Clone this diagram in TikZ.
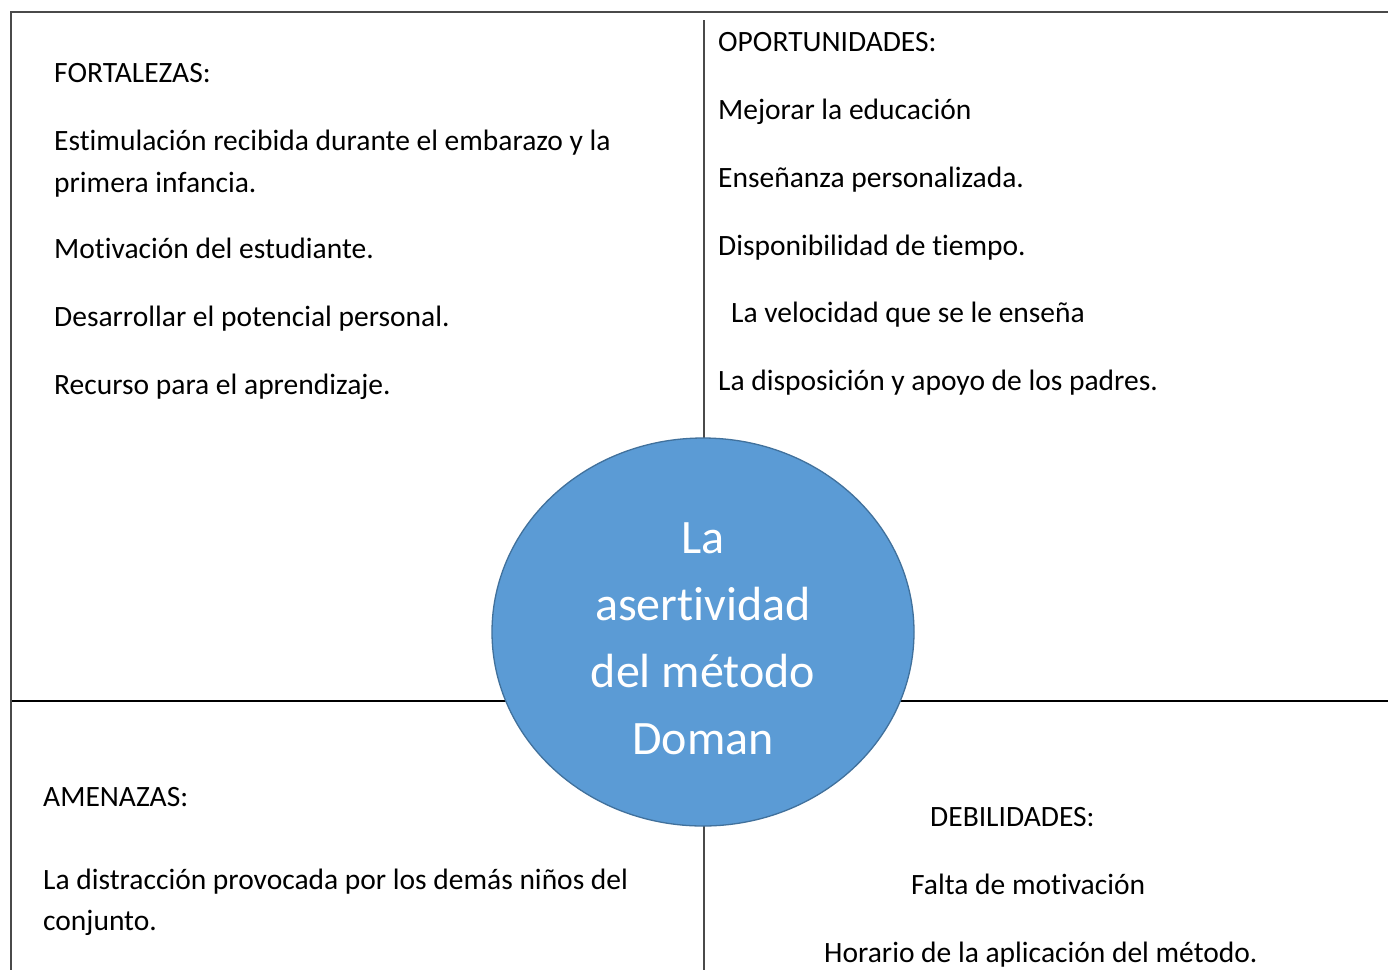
\documentclass[tikz,border=0pt]{standalone}
\usepackage{fontspec}
\setmainfont{Carlito}[Ligatures={NoCommon}]
\usetikzlibrary{shapes.geometric}
\definecolor{blobfill}{HTML}{5B9BD5}
\definecolor{blobdraw}{HTML}{41719C}
\definecolor{frame}{HTML}{4A4A4A}
\tikzset{
  txt/.style={anchor=base west, inner sep=0pt, yshift=-1.5pt, font=\fontsize{29.5}{42}\selectfont, text=black},
  ctxt/.style={anchor=base, inner sep=0pt, yshift=-1pt, font=\fontsize{48}{67}\selectfont, text=white},
}
\begin{document}
\begin{tikzpicture}[x=1pt,y=-1pt]
\useasboundingbox (0,0) rectangle (1388,970);
\fill[white] (0,0) rectangle (1388,970);
% frame and dividers
\coordinate (tl) at (10,12);
\coordinate (tr) at (1388,12);
\coordinate (bl) at (11,970);
\coordinate (lt) at (11,12);
\coordinate (vt) at (704,20);
\coordinate (vb) at (704,970);
\coordinate (hl) at (12,701);
\coordinate (hr) at (1388,701);
\draw[frame, line width=2pt] (tl) -- (tr);
\draw[frame, line width=2pt] (lt) -- (bl);
\draw[frame, line width=1.4pt] (vt) -- (vb);
\draw[black, line width=2.2pt] (hl) -- (hr);
% center ellipse
\node[ellipse, minimum width=422pt, minimum height=388pt, inner sep=0pt,
      fill=blobfill, draw=blobdraw, line width=1.3pt] (blob) at (703,632) {};
\node[ctxt] (c1) at (703,552) {La};
\node[ctxt] (c2) at (703,619) {asertividad};
\node[ctxt] (c3) at (703,686.5) {del método};
\node[ctxt] (c4) at (703,753) {Doman};
% fortalezas
\node[txt] (f0) at (54,81) {FORTALEZAS:};
\node[txt] (f1) at (54,149) {Estimulación recibida durante el embarazo y la};
\node[txt] (f1b) at (54,191) {primera infancia.};
\node[txt] (f2) at (54,257) {Motivación del estudiante.};
\node[txt] (f3) at (54,325) {Desarrollar el potencial personal.};
\node[txt] (f4) at (54,393) {Recurso para el aprendizaje.};
% oportunidades
\node[txt] (o0) at (718,50) {OPORTUNIDADES:};
\node[txt] (o1) at (718,118) {Mejorar la educación};
\node[txt] (o2) at (718,186) {Enseñanza personalizada.};
\node[txt] (o3) at (718,254) {Disponibilidad de tiempo.};
\node[txt] (o4) at (731,321) {La velocidad que se le enseña};
\node[txt] (o5) at (718,389) {La disposición y apoyo de los padres.};
% amenazas
\node[txt] (a0) at (43,805) {AMENAZAS:};
\node[txt] (a1) at (43,888) {La distracción provocada por los demás niños del};
\node[txt] (a1b) at (43,929) {conjunto.};
% debilidades
\node[txt] (d0) at (930,825) {DEBILIDADES:};
\node[txt] (d1) at (911,893) {Falta de motivación};
\node[txt] (d2) at (824,961) {Horario de la aplicación del método.};
\end{tikzpicture}
\end{document}
